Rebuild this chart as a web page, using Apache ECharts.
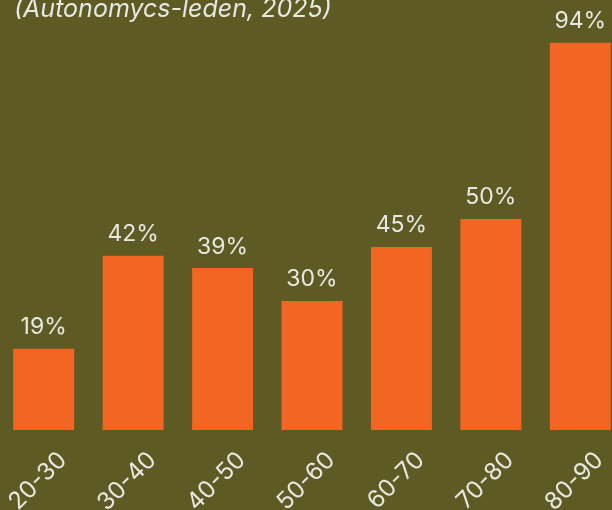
<!DOCTYPE html>
<html>
<head>
<meta charset="utf-8">
<script src="https://cdn.jsdelivr.net/npm/echarts@6/dist/echarts.min.js"></script>
<style>
  html, body { margin: 0; padding: 0; background: #5d5a24; }
  #chart { width: 612px; height: 510px; }
</style>
</head>
<body>
<div id="chart"></div>
<script>
// leeftijdsgroepen, gemeten balkhoogtes en de percentages boven de balken
const categories = ['20-30', '30-40', '40-50', '50-60', '60-70', '70-80', '80-90'];
const values = [19.7, 42.3, 39.3, 31.3, 44.4, 51.2, 94];
const labels = ['19%', '42%', '39%', '30%', '45%', '50%', '94%'];
const titleText = '(Autonomycs-leden, 2025)';

const bg = '#5d5a24';
const orange = '#f26522';
const textColor = '#e8e8e2';

var myChart = echarts.init(document.getElementById('chart'));
myChart.setOption({
  backgroundColor: bg,
  title: {
    text: titleText,
    left: 9,
    top: -8,
    textStyle: {
      color: textColor,
      fontSize: 25,
      fontStyle: 'italic',
      fontWeight: 'normal',
      fontFamily: 'Inter'
    }
  },
  grid: {
    left: -1,
    right: -13,
    top: 18,
    bottom: 80,
    outerBoundsMode: 'none'
  },
  xAxis: {
    type: 'category',
    data: categories,
    axisLine: { show: false },
    axisTick: { show: false },
    axisLabel: {
      rotate: 45,
      margin: 7,
      verticalAlign: 'top',
      lineHeight: 54,
      color: textColor,
      fontSize: 24,
      fontFamily: 'Inter'
    }
  },
  yAxis: {
    type: 'value',
    min: 0,
    max: 100,
    show: false
  },
  series: [{
    type: 'bar',
    data: values,
    barWidth: 61,
    itemStyle: { color: orange },
    label: {
      show: true,
      position: 'top',
      distance: 10,
      formatter: p => labels[p.dataIndex],
      color: textColor,
      fontSize: 23,
      fontFamily: 'Inter'
    }
  }]
});
</script>
</body>
</html>
